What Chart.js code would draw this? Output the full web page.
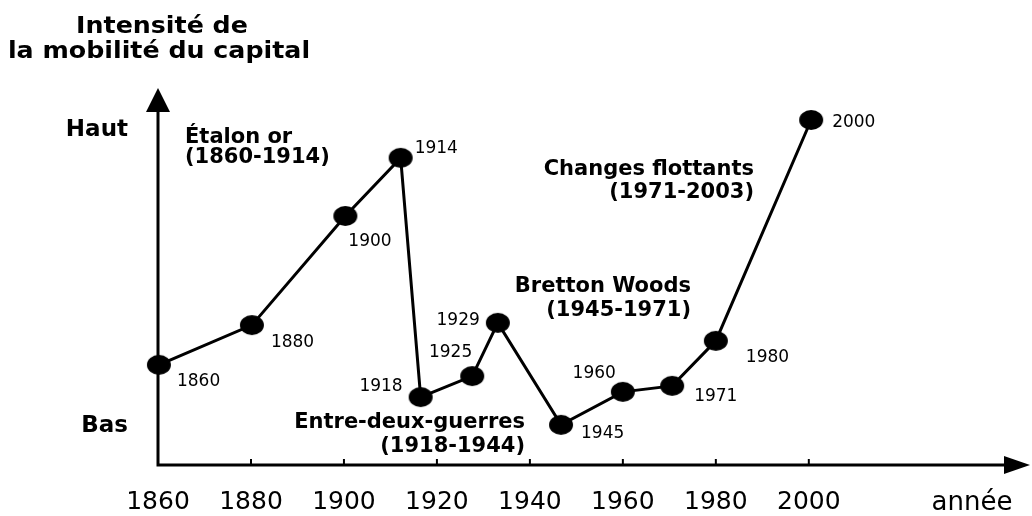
<!DOCTYPE html>
<html lang="fr">
<head>
<meta charset="utf-8">
<title>Intensité de la mobilité du capital</title>
<script src="https://cdn.jsdelivr.net/npm/chart.js@4.4.1/dist/chart.umd.min.js"></script>
<style>
  html, body { margin: 0; padding: 0; background: #fff; }
  #wrap { width: 1032px; height: 516px; position: relative; }
</style>
</head>
<body>
<div id="wrap"><canvas id="capital-chart"></canvas></div>
<script>
// year written next to each point
const yearLabels = ['1860', '1880', '1900', '1914', '1918', '1925', '1929', '1945', '1960', '1971', '1980', '2000'];
// where each point sits on the year axis, as drawn in the figure
const yearPositions = [1860.2, 1880.2, 1900.3, 1912.2, 1916.5, 1927.6, 1933.1, 1946.7, 1960.0, 1970.6, 1980.0, 2000.5];
// capital mobility, 0 = axis, 100 = top of the vertical arrow
const mobility = [26.7, 37.3, 66.4, 81.9, 18.1, 23.7, 37.9, 10.7, 19.5, 21.1, 33.1, 92.0];

const tickYears = [1860, 1880, 1900, 1920, 1940, 1960, 1980, 2000];
const levelNames = ['Bas', 'Haut'];
const levelValues = [10.4, 89.3];

const titleLines = ['Intensité de', 'la mobilité du capital'];
const periodNotes = [
    ['Étalon or', '(1860-1914)'],
    ['Changes flottants', '(1971-2003)'],
    ['Bretton Woods', '(1945-1971)'],
    ['Entre-deux-guerres', '(1918-1944)']
];

// layout of the texts drawn by the overlay plugin
const noteLayout = [
    { x: 185, y: [143, 163], align: 'left' },
    { x: 754, y: [175, 198], align: 'right' },
    { x: 691, y: [292, 316], align: 'right' },
    { x: 525, y: [428, 452], align: 'right' }
];
const pointLabelPos = [
    { dx: 18, dy: 17, align: 'left' },
    { dx: 19, dy: 17, align: 'left' },
    { dx: 3, dy: 26, align: 'left' },
    { dx: 14, dy: -9, align: 'left' },
    { dx: -18, dy: -11, align: 'right' },
    { dx: 0, dy: -24, align: 'right' },
    { dx: -18, dy: -2, align: 'right' },
    { dx: 20, dy: 9, align: 'left' },
    { dx: -7, dy: -18, align: 'right' },
    { dx: 22, dy: 11, align: 'left' },
    { dx: 30, dy: 17, align: 'left' },
    { dx: 21, dy: 3, align: 'left' }
];

Chart.defaults.font.family = "'DejaVu Sans', sans-serif";
Chart.defaults.color = '#000';

// the dots in the figure are slightly wider than tall
function makeDot() {
    const c = document.createElement('canvas');
    c.width = 26;
    c.height = 22;
    const g = c.getContext('2d');
    g.fillStyle = '#000';
    g.beginPath();
    g.ellipse(13, 11, 12, 10, 0, 0, Math.PI * 2);
    g.fill();
    return c;
}

function stretchedText(ctx, text, x, y, sx) {
    ctx.save();
    ctx.translate(x, y);
    ctx.scale(sx, 1);
    ctx.fillText(text, 0, 0);
    ctx.restore();
}

const overlay = {
    id: 'overlay',
    beforeDatasetsDraw(chart) {
        const { ctx, scales: { x, y } } = chart;
        const x0 = x.left;
        const y0 = y.bottom;
        ctx.save();
        ctx.strokeStyle = '#000';
        ctx.fillStyle = '#000';

        // axes
        ctx.lineWidth = 3;
        ctx.beginPath();
        ctx.moveTo(x0, y0 + 1.5);
        ctx.lineTo(x0, 108);
        ctx.moveTo(x0 - 1.5, y0);
        ctx.lineTo(1008, y0);
        ctx.stroke();

        // arrow heads
        ctx.beginPath();
        ctx.moveTo(x0, 88);
        ctx.lineTo(x0 + 12, 112);
        ctx.lineTo(x0 - 12, 112);
        ctx.closePath();
        ctx.fill();
        ctx.beginPath();
        ctx.moveTo(1030, y0);
        ctx.lineTo(1004, y0 - 9);
        ctx.lineTo(1004, y0 + 9);
        ctx.closePath();
        ctx.fill();

        // small tick marks above the axis
        ctx.lineWidth = 2;
        x.ticks.forEach(t => {
            if (t.value === tickYears[0]) return;
            const px = x.getPixelForValue(t.value);
            ctx.beginPath();
            ctx.moveTo(px, y0);
            ctx.lineTo(px, y0 - 6);
            ctx.stroke();
        });

        // title
        ctx.font = "bold 23px 'DejaVu Sans'";
        ctx.textAlign = 'center';
        ctx.textBaseline = 'alphabetic';
        stretchedText(ctx, titleLines[0], 162, 33, 1.1);
        stretchedText(ctx, titleLines[1], 159, 58, 1.1);

        // x axis name
        ctx.font = "26px 'DejaVu Sans'";
        ctx.fillText('année', 972, 510);

        // period notes
        ctx.font = "bold 21px 'DejaVu Sans'";
        periodNotes.forEach((lines, i) => {
            const l = noteLayout[i];
            ctx.textAlign = l.align;
            lines.forEach((txt, j) => ctx.fillText(txt, l.x, l.y[j]));
        });
        ctx.restore();
    },
    afterDatasetsDraw(chart) {
        const { ctx } = chart;
        const meta = chart.getDatasetMeta(0);
        ctx.save();
        ctx.fillStyle = '#000';
        ctx.font = "17px 'DejaVu Sans'";
        ctx.textBaseline = 'middle';
        meta.data.forEach((el, i) => {
            const p = pointLabelPos[i];
            ctx.textAlign = p.align;
            ctx.fillText(yearLabels[i], el.x + p.dx, el.y + p.dy);
        });
        ctx.restore();
    }
};

const points = yearPositions.map((yr, i) => ({ x: yr, y: mobility[i] }));

new Chart(document.getElementById('capital-chart'), {
    type: 'line',
    data: {
        datasets: [{
            label: 'Mobilité du capital',
            data: points,
            borderColor: '#000',
            borderWidth: 3,
            pointStyle: makeDot(),
            pointRadius: 11,
            pointHoverRadius: 11,
            tension: 0,
            clip: false
        }]
    },
    options: {
        responsive: true,
        maintainAspectRatio: false,
        animation: false,
        events: [],
        layout: {
            padding: { top: 90, right: 6, bottom: 0, left: 0 }
        },
        plugins: {
            legend: { display: false },
            tooltip: { enabled: false }
        },
        scales: {
            x: {
                type: 'linear',
                min: 1860,
                max: 2045,
                grid: { display: false, drawTicks: false },
                border: { display: false },
                afterBuildTicks: scale => {
                    scale.ticks = tickYears.map(v => ({ value: v }));
                },
                afterFit: scale => { scale.height = 51; },
                ticks: {
                    padding: 22,
                    maxRotation: 0,
                    autoSkip: false,
                    font: { size: 25 },
                    callback: v => String(v)
                }
            },
            y: {
                min: 0,
                max: 100,
                grid: { display: false, drawTicks: false },
                border: { display: false },
                afterBuildTicks: scale => {
                    scale.ticks = levelValues.map(v => ({ value: v }));
                },
                afterFit: scale => { scale.width = 158; },
                ticks: {
                    padding: 30,
                    autoSkip: false,
                    font: { size: 23, weight: 'bold' },
                    callback: v => levelNames[levelValues.indexOf(v)]
                }
            }
        }
    },
    plugins: [overlay]
});
</script>
</body>
</html>
